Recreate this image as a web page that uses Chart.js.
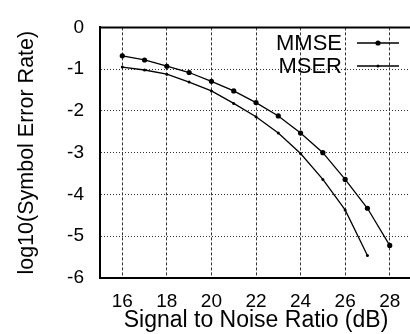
<!DOCTYPE html>
<html>
<head>
<meta charset="utf-8">
<script src="https://cdn.jsdelivr.net/npm/chart.js@4/dist/chart.umd.min.js"></script>
<style>
  html, body { margin: 0; padding: 0; background: #fff; overflow: hidden; }
  #wrap { width: 416px; height: 334px; }
</style>
</head>
<body>
<div id="wrap"><canvas id="serChart" width="416" height="334"></canvas></div>
<script>
// SNR axis values (dB)
const snr = [16, 17, 18, 19, 20, 21, 22, 23, 24, 25, 26, 27, 28];
// log10 symbol error rate per detector
const mmse = [-0.68, -0.78, -0.93, -1.08, -1.29, -1.52, -1.80, -2.12, -2.53, -3.00, -3.64, -4.33, -5.22];
const mser = [-0.95, -1.02, -1.12, -1.31, -1.52, -1.82, -2.14, -2.53, -3.02, -3.64, -4.37, -5.46];
const xTicks = [16, 18, 20, 22, 24, 26, 28];
const yTicks = [0, -1, -2, -3, -4, -5, -6];

const font = 'Liberation Sans, Arial, sans-serif';

function pts(ys) {
    return ys.map((y, i) => ({ x: snr[i], y: y }));
}

// legend inside the plot: label on the left, line sample on the right
const insideLegend = {
    id: 'insideLegend',
    afterDraw(chart) {
        const ctx = chart.ctx;
        const rows = [{ y: 43, ds: 0 }, { y: 66, ds: 1 }];
        ctx.save();
        rows.forEach(r => {
            const ds = chart.data.datasets[r.ds];
            ctx.font = '22px ' + font;
            ctx.fillStyle = '#000';
            ctx.textAlign = 'right';
            ctx.textBaseline = 'middle';
            ctx.fillText(ds.label, 342, r.y + 1);
            ctx.strokeStyle = '#000';
            ctx.lineWidth = 1.3;
            ctx.beginPath();
            ctx.moveTo(357, r.y);
            ctx.lineTo(399, r.y);
            ctx.stroke();
            ctx.beginPath();
            ctx.arc(378, r.y, ds.pointRadius, 0, Math.PI * 2);
            ctx.fillStyle = '#000';
            ctx.fill();
        });
        // top frame line
        const a = chart.chartArea;
        ctx.strokeStyle = '#000';
        ctx.lineWidth = 2;
        ctx.beginPath();
        ctx.moveTo(a.left, a.top);
        ctx.lineTo(a.right, a.top);
        ctx.stroke();
        ctx.restore();
    }
};

new Chart(document.getElementById('serChart'), {
    type: 'line',
    data: {
        datasets: [{
            label: 'MMSE',
            data: pts(mmse),
            borderColor: '#000',
            backgroundColor: '#000',
            borderWidth: 1.3,
            pointRadius: 2.6,
            pointBorderWidth: 0,
            tension: 0
        }, {
            label: 'MSER',
            data: pts(mser),
            borderColor: '#000',
            backgroundColor: '#000',
            borderWidth: 1.3,
            pointRadius: 1.5,
            pointBorderWidth: 0,
            tension: 0
        }]
    },
    options: {
        responsive: false,
        animation: false,
        layout: { padding: { top: 17, right: 0, left: 0, bottom: 0 } },
        plugins: {
            legend: { display: false },
            tooltip: { enabled: false }
        },
        scales: {
            x: {
                type: 'linear',
                min: 15,
                max: 29,
                afterBuildTicks: s => { s.ticks = xTicks.map(v => ({ value: v })); },
                afterFit: s => { s.height = 56; },
                border: { color: '#000', width: 2, dash: [3, 2] },
                grid: { color: '#333', lineWidth: 1, drawTicks: false },
                ticks: { color: '#000', font: { family: font, size: 19 }, padding: 12, maxRotation: 0 },
                title: {
                    display: true,
                    text: 'Signal to Noise Ratio (dB)',
                    color: '#000',
                    font: { family: font, size: 23 },
                    padding: { top: 0, bottom: 0 }
                }
            },
            y: {
                type: 'linear',
                min: -6,
                max: 0,
                afterBuildTicks: s => { s.ticks = yTicks.map(v => ({ value: v })); },
                afterFit: s => { s.width = 100; },
                border: { color: '#000', width: 2, dash: [1, 2] },
                grid: { color: '#333', lineWidth: 1, drawTicks: false },
                ticks: { color: '#000', font: { family: font, size: 19 }, padding: 16 },
                title: {
                    display: true,
                    text: 'log10(Symbol Error Rate)',
                    color: '#000',
                    font: { family: font, size: 21.5 },
                    padding: { top: 14, bottom: 0 }
                }
            }
        }
    },
    plugins: [insideLegend]
});
</script>
</body>
</html>
